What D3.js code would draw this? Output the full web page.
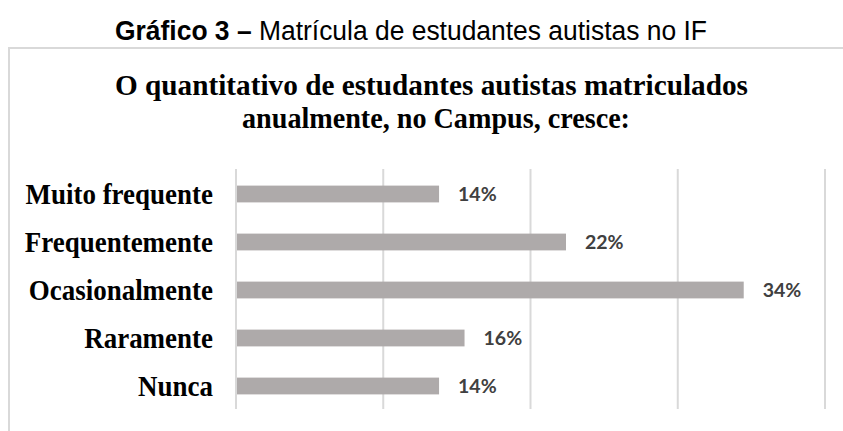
<!DOCTYPE html>
<html>
<head>
<meta charset="utf-8">
<script src="https://cdn.jsdelivr.net/npm/d3@7"></script>
<style>
  html, body { margin: 0; padding: 0; background: #ffffff; }
  svg { display: block; }
</style>
</head>
<body>
<div id="chart"></div>
<script>
// ---- data ----
const categories = ["Muito frequente", "Frequentemente", "Ocasionalmente", "Raramente", "Nunca"];
const values = [13.79, 22.41, 34.48, 15.52, 13.79]; // percent
const xTicks = [0, 10, 20, 30, 40];
const headerBold = "Gráfico 3 – ";
const headerRest = "Matrícula de estudantes autistas no IF";
const titleLines = ["O quantitativo de estudantes autistas matriculados", "anualmente, no Campus, cresce:"];

const W = 843, H = 431;
const svg = d3.select("#chart").append("svg").attr("width", W).attr("height", H);

// header caption
const header = svg.append("text")
  .attr("x", 115).attr("y", 40)
  .attr("textLength", 592).attr("lengthAdjust", "spacingAndGlyphs")
  .style("font-family", "'Liberation Sans', Arial, sans-serif")
  .style("font-size", "27px")
  .attr("fill", "#000");
header.append("tspan").style("font-weight", "bold").text(headerBold);
header.append("tspan").text(headerRest);

// chart box
svg.append("rect")
  .attr("x", 9).attr("y", 48).attr("width", 860).attr("height", 400)
  .attr("fill", "none").attr("stroke", "#d9d9d9").attr("stroke-width", 2);

// title
const titleSpans = [{x: 115, y: 95, len: 633}, {x: 242, y: 128, len: 388}];
svg.selectAll("text.title").data(titleLines).join("text")
  .attr("class", "title")
  .attr("x", (d, i) => titleSpans[i].x)
  .attr("y", (d, i) => titleSpans[i].y)
  .attr("textLength", (d, i) => titleSpans[i].len)
  .attr("lengthAdjust", "spacingAndGlyphs")
  .style("font-family", "'Liberation Serif', 'Times New Roman', serif")
  .style("font-weight", "bold")
  .style("font-size", "30px")
  .attr("fill", "#000")
  .text(d => d);

// scales
const x = d3.scaleLinear().domain([0, 40]).range([236, 825]);
const y = d3.scaleBand().domain(categories).range([170, 410]).paddingInner(0.65).paddingOuter(0.325);

// gridlines
svg.append("g").selectAll("line").data(xTicks).join("line")
  .attr("x1", d => x(d)).attr("x2", d => x(d))
  .attr("y1", 169).attr("y2", 409)
  .attr("stroke", "#d9d9d9").attr("stroke-width", 2);

// bars
svg.append("g").selectAll("rect").data(values).join("rect")
  .attr("x", x(0) + 1)
  .attr("y", (d, i) => y(categories[i]))
  .attr("width", d => x(d) - x(0) - 1)
  .attr("height", y.bandwidth())
  .attr("fill", "#aeaaaa");

// category labels (slightly condensed, as in the reference)
svg.append("g").selectAll("text").data(categories).join("text")
  .attr("transform", d => `translate(213,${y(d) + y.bandwidth() / 2}) scale(0.93,1)`)
  .attr("dy", "0.35em")
  .attr("text-anchor", "end")
  .style("font-family", "'Liberation Serif', 'Times New Roman', serif")
  .style("font-weight", "bold")
  .style("font-size", "29px")
  .attr("fill", "#000")
  .text(d => d);

// value labels
svg.append("g").selectAll("text").data(values).join("text")
  .attr("x", d => x(d) + 19)
  .attr("y", (d, i) => y(categories[i]) + y.bandwidth() / 2)
  .attr("dy", "0.36em")
  .style("font-family", "Lato, 'Open Sans', sans-serif")
  .style("font-weight", "bold")
  .style("font-size", "19.5px")
  .attr("fill", "#404040")
  .text(d => Math.round(d) + "%");
</script>
</body>
</html>
